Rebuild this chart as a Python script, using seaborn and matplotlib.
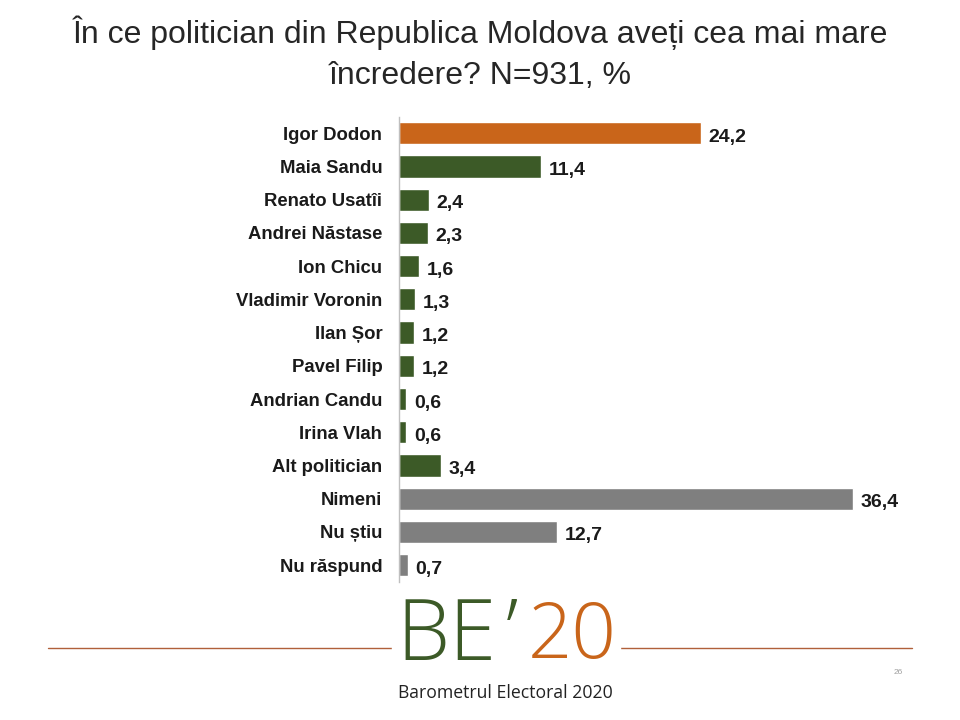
import matplotlib
matplotlib.use("Agg")
import matplotlib.pyplot as plt
import seaborn as sns
import pandas as pd

names = ["Igor Dodon", "Maia Sandu", "Renato Usatîi", "Andrei Năstase", "Ion Chicu",
         "Vladimir Voronin", "Ilan Șor", "Pavel Filip", "Andrian Candu", "Irina Vlah",
         "Alt politician", "Nimeni", "Nu știu", "Nu răspund"]
values = [24.2, 11.4, 2.4, 2.3, 1.6, 1.3, 1.2, 1.2, 0.6, 0.6, 3.4, 36.4, 12.7, 0.7]
groups = ["dodon"] + ["pol"] * 10 + ["other"] * 3

colors = {"dodon": "#C9651A", "pol": "#3C5A27", "other": "#7F7F7F"}

df = pd.DataFrame({"name": names, "value": values, "group": groups})

sns.set_style("white")
plt.rcParams["font.family"] = ["Liberation Sans", "DejaVu Sans"]

fig = plt.figure(figsize=(9.6, 7.2), dpi=100)
fig.patch.set_facecolor("white")

ax = fig.add_axes([0.4156, 0.192, 0.52, 0.646])
ax.patch.set_alpha(0)
sns.barplot(data=df, x="value", y="name", hue="group", palette=colors,
            orient="h", width=0.67, legend=False, ax=ax, saturation=1)

ax.set_xlim(0, 40)
ax.set_ylim(len(names) - 0.5, -0.5)
ax.set_xlabel("")
ax.set_ylabel("")
ax.set_xticks([])
for s in ["top", "right", "bottom"]:
    ax.spines[s].set_visible(False)
ax.spines["left"].set_color("#BFBFBF")
ax.spines["left"].set_linewidth(1)
ax.tick_params(axis="y", length=0, pad=12)
for lab in ax.get_yticklabels():
    lab.set_fontweight("bold")
    lab.set_fontsize(13.3)
    lab.set_color("#1A1A1A")

for i, v in enumerate(values):
    ax.text(v + 0.6, i + 0.12, f"{v:.1f}".replace(".", ","), va="center", ha="left",
            fontsize=14, fontweight="bold", color="#1A1A1A")

# title
fig.text(0.5, 0.955, "În ce politician din Republica Moldova aveți cea mai mare",
         ha="center", va="center", fontsize=23, color="#262626")
fig.text(0.5, 0.895, "încredere? N=931, %", ha="center", va="center", fontsize=23,
         color="#262626")

# bottom line and logo
fig.add_artist(plt.Line2D([48 / 960, 392 / 960], [1 - 648 / 720] * 2, color="#B0603A", lw=1))
fig.add_artist(plt.Line2D([620 / 960, 912 / 960], [1 - 648 / 720] * 2, color="#B0603A", lw=1))
fig.add_artist(plt.Rectangle((392 / 960, 1 - 705 / 720), 228 / 960, 107 / 720,
                             color="white", zorder=2))
logo_font = ["Open Sans", "DejaVu Sans"]
fig.text(396 / 960, 1 - 638 / 720, "BE", fontsize=61, color="#3C5A27", ha="left",
         va="center", family=logo_font, fontweight="light", zorder=3)
fig.text(506 / 960, 1 - 638 / 720, "’", fontsize=61, color="#3C5A27", ha="left",
         va="center", family=logo_font, fontweight="light", zorder=3)
fig.text(528 / 960, 1 - 638 / 720, "20", fontsize=56, color="#C9651A", ha="left",
         va="center", family=logo_font, fontweight="light", zorder=3)
fig.text(398 / 960, 1 - 693 / 720, "Barometrul Electoral 2020", fontsize=12.7,
         color="#222222", ha="left", va="center", family=logo_font, zorder=3)
fig.text(898 / 960, 1 - 672 / 720, "26", fontsize=6, color="#A0A0A0", ha="center", va="center")

fig.savefig("out.png", dpi=100)
